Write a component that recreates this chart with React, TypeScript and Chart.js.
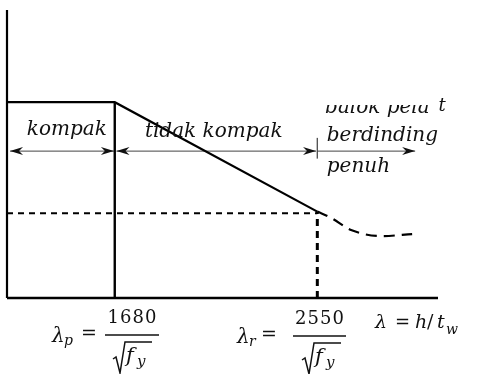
import { useEffect, useRef } from "react";
import { Chart, registerables } from "chart.js";

Chart.register(...registerables);

const W = 477;
const H = 374;

// Slenderness axis (arbitrary units) and its web limits
const X_MAX = 100;
const LAMBDA_P = 25;
const LAMBDA_R = 72;
const LAMBDA_END = 94.7;

// Moment capacity axis (arbitrary units)
const Y_MAX = 100;
const M_PLASTIC = 68;
const M_LIMIT = 30;
const ARROW_LEVEL = 51;

// Elastic buckling tail past lambda_r (plate girder range)
const tailX = [72, 75, 80, 87, 94];
const tailY = [30, 28, 23.5, 21.5, 22.2];

// Region names
const regionLabels = ["kompak", "tidak kompak"];
const girderLabels = ["balok pela", "t", "berdinding", "penuh"];

// Limit formulas
const limitNumerators = ["1680", "2550"];
const limitSubscripts = ["p", "r"];

const SERIF_I = (px: number) => `italic ${px}px "DejaVu Serif"`;
const SERIF = (px: number) => `${px}px "DejaVu Serif"`;

type Heads = "both" | "end";

function drawHead(ctx: CanvasRenderingContext2D, x: number, y: number, dir: number) {
  // barbed arrow head, tip at (x, y), pointing in dir (+1 right, -1 left)
  const len = 13;
  const half = 4;
  const notch = 9;
  ctx.beginPath();
  ctx.moveTo(x, y);
  ctx.lineTo(x - dir * len, y - half);
  ctx.lineTo(x - dir * notch, y);
  ctx.lineTo(x - dir * len, y + half);
  ctx.closePath();
  ctx.fill();
}

const overlay = {
  id: "overlay",
  afterDatasetsDraw(chart: Chart) {
    const ctx = chart.ctx;
    const xs = chart.scales.x;
    const ys = chart.scales.y;
    const px = (v: number) => xs.getPixelForValue(v);
    const py = (v: number) => ys.getPixelForValue(v);

    // arrow heads on the region dimension lines
    ctx.save();
    ctx.fillStyle = "#111";
    chart.data.datasets.forEach((ds: any) => {
      if (!ds.heads) return;
      const pts = ds.data as { x: number; y: number }[];
      const a = pts[0];
      const b = pts[pts.length - 1];
      if ((ds.heads as Heads) === "both") drawHead(ctx, px(a.x), py(a.y), -1);
      drawHead(ctx, px(b.x), py(b.y), 1);
    });
    ctx.restore();

    ctx.save();
    ctx.fillStyle = "#111";
    ctx.textBaseline = "alphabetic";
    ctx.textAlign = "left";

    // region labels above the dimension lines
    ctx.font = SERIF_I(20);
    ctx.fillText(regionLabels[0], px(4.6), 135);
    ctx.fillText(regionLabels[1], px(32), 137);

    // plate girder label, first line cut off at the top
    ctx.save();
    ctx.beginPath();
    ctx.rect(0, 105, W, 40);
    ctx.clip();
    ctx.fillText(girderLabels[0], px(73.8), 113);
    ctx.restore();
    ctx.font = SERIF_I(18);
    ctx.fillText(girderLabels[1], px(100.1), 111);
    ctx.font = SERIF_I(20);
    ctx.fillText(girderLabels[2], px(74.2), 141);
    ctx.fillText(girderLabels[3], px(74.2), 172);

    // limit formulas under the axis
    const base = chart.chartArea.bottom;
    const formula = (
      xl: number,
      lx: number,
      eqx: number,
      sub: string,
      num: string,
      barL: number,
      barR: number,
      dy: number
    ) => {
      const barY = base + 37 + dy;
      // lambda with subscript
      ctx.font = SERIF_I(20);
      ctx.fillText("λ", lx, barY + 7);
      ctx.font = SERIF_I(14);
      ctx.fillText(sub, lx + 12, barY + 10);
      // equals sign
      ctx.font = SERIF(19);
      ctx.textBaseline = "middle";
      ctx.fillText("=", eqx, barY - 1);
      ctx.textBaseline = "alphabetic";
      // numerator
      ctx.font = SERIF(18);
      ctx.textAlign = "center";
      (ctx as any).letterSpacing = "1px";
      ctx.fillText(num, (barL + barR) / 2 + 0.5, barY - 12);
      (ctx as any).letterSpacing = "0px";
      ctx.textAlign = "left";
      // fraction bar
      ctx.lineWidth = 1.6;
      ctx.strokeStyle = "#111";
      ctx.beginPath();
      ctx.moveTo(barL, barY);
      ctx.lineTo(barR, barY);
      ctx.stroke();
      // radical over f_y
      const r0 = xl;
      const top = barY + 7;
      ctx.lineWidth = 1.5;
      ctx.beginPath();
      ctx.moveTo(r0, top + 17);
      ctx.lineTo(r0 + 3, top + 15);
      ctx.lineTo(r0 + 7, top + 31);
      ctx.lineTo(r0 + 12, top);
      ctx.lineTo(r0 + 39, top);
      ctx.stroke();
      ctx.font = SERIF_I(21);
      ctx.fillText("f", r0 + 13, top + 20);
      ctx.font = SERIF_I(15);
      ctx.fillText("y", r0 + 24, top + 24);
    };
    formula(113, 52, 81, limitSubscripts[0], limitNumerators[0], 105, 159, 0);
    formula(302, 237, 261, limitSubscripts[1], limitNumerators[1], 293, 346, 1);

    // slenderness definition at the end of the axis
    ctx.font = SERIF_I(19);
    ctx.fillText("λ", 375, 328);
    ctx.font = SERIF(18);
    ctx.fillText("=", 395, 328);
    ctx.font = SERIF_I(19);
    ctx.fillText("h", 415, 328);
    ctx.font = SERIF(19);
    ctx.fillText("/", 427, 328);
    ctx.font = SERIF_I(19);
    ctx.fillText("t", 437, 328);
    ctx.font = SERIF_I(14);
    ctx.fillText("w", 446, 334);
    ctx.restore();
  },
};

const line = (data: { x: number; y: number }[], width: number, extra: any = {}) => ({
  data,
  showLine: true,
  borderColor: "#000",
  borderWidth: width,
  pointRadius: 0,
  fill: false,
  tension: 0,
  clip: false,
  ...extra,
});

export default function App() {
  const ref = useRef<HTMLCanvasElement | null>(null);

  useEffect(() => {
    if (!ref.current) return;
    const chart = new Chart(ref.current, {
      type: "scatter",
      data: {
        datasets: [
          // axes
          line([{ x: 0, y: 0 }, { x: 0, y: Y_MAX }], 2.2),
          line([{ x: 0, y: 0 }, { x: X_MAX, y: 0 }], 2.5),
          // plastic plateau and inelastic transition
          line(
            [
              { x: 0, y: M_PLASTIC },
              { x: LAMBDA_P, y: M_PLASTIC },
              { x: LAMBDA_R, y: M_LIMIT },
            ],
            2.2
          ),
          line([{ x: LAMBDA_P, y: 0 }, { x: LAMBDA_P, y: M_PLASTIC }], 2.4),
          // limit moment reference lines
          line([{ x: 0, y: M_LIMIT - 0.6 }, { x: LAMBDA_R, y: M_LIMIT - 0.6 }], 2, {
            borderDash: [6, 5],
          }),
          line([{ x: LAMBDA_R, y: 0 }, { x: LAMBDA_R, y: M_LIMIT }], 3, {
            borderDash: [7, 5],
          }),
          // elastic buckling tail
          line(
            tailX.map((x, i) => ({ x, y: tailY[i] })),
            2.2,
            { borderDash: [11, 7], tension: 0.4, cubicInterpolationMode: "monotone" }
          ),
          // region dimension lines
          line([{ x: 0.7, y: ARROW_LEVEL }, { x: LAMBDA_P - 0.2, y: ARROW_LEVEL }], 1, {
            borderColor: "#444",
            heads: "both",
          }),
          line([{ x: LAMBDA_P + 0.4, y: ARROW_LEVEL }, { x: LAMBDA_R - 0.3, y: ARROW_LEVEL }], 1, {
            borderColor: "#444",
            heads: "both",
          }),
          line([{ x: LAMBDA_R, y: ARROW_LEVEL }, { x: LAMBDA_END, y: ARROW_LEVEL }], 1, {
            borderColor: "#444",
            heads: "end",
          }),
          // separator tick at lambda_r
          line([{ x: LAMBDA_R, y: ARROW_LEVEL - 2.6 }, { x: LAMBDA_R, y: ARROW_LEVEL + 4.6 }], 1.4, {
            borderColor: "#555",
          }),
        ],
      },
      options: {
        responsive: false,
        animation: false,
        events: [],
        layout: { padding: { left: 7, top: 10, right: 39, bottom: 76 } },
        plugins: { legend: { display: false }, tooltip: { enabled: false }, title: { display: false } },
        scales: {
          x: { type: "linear", min: 0, max: X_MAX, display: false },
          y: { type: "linear", min: 0, max: Y_MAX, display: false },
        },
      },
      plugins: [overlay],
    });
    return () => chart.destroy();
  }, []);

  return (
    <div style={{ position: "fixed", left: 0, top: 0, width: W, height: H, background: "#fff" }}>
      <canvas ref={ref} width={W} height={H} style={{ width: W, height: H, display: "block" }} />
    </div>
  );
}
